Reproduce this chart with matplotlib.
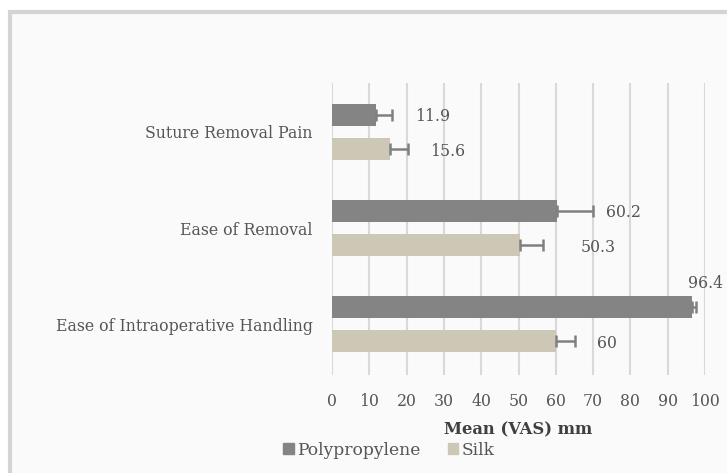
import matplotlib.pyplot as plt
import numpy as np
from matplotlib.patches import Rectangle

categories = ['Ease of Intraoperative Handling', 'Ease of Removal', 'Suture Removal Pain']
polypropylene = [96.4, 60.2, 11.9]
silk = [60.0, 50.3, 15.6]
pp_err = [1.2, 9.8, 4.2]
silk_err = [5.2, 6.3, 4.8]
pp_labels = ['96.4', '60.2', '11.9']
silk_labels = ['60', '50.3', '15.6']

plt.rcParams['font.family'] = ['DejaVu Serif']

fig = plt.figure(figsize=(7.27, 4.73), dpi=100)
fig.patch.set_facecolor('white')
# chart frame
fig.patches.append(Rectangle((10/727, -0.1), 1.1, 1 - 12/473 + 0.1, transform=fig.transFigure,
                             facecolor='#fafafa', edgecolor='#d4d4d4', lw=3, zorder=-10))

ax = fig.add_axes([332/727, 1 - 375/473, 373/727, 292/473])
ax.set_facecolor('none')

y = np.arange(len(categories))
off = 0.177
h = 0.23
pp_col = '#848484'
silk_col = '#cdc8b6'
txt = '#555555'
fs = 11.3

ekw = dict(ecolor='#808080', elinewidth=1.8, capsize=4, capthick=1.8, zorder=4)
ax.barh(y + off, polypropylene, height=h, color=pp_col, zorder=3,
        xerr=[np.zeros(3), pp_err], error_kw=ekw)
ax.barh(y - off, silk, height=h, color=silk_col, zorder=3,
        xerr=[np.zeros(3), silk_err], error_kw=ekw)

# data labels, placed by hand like the original
pp_lx = [95.5, 73.5, 22.3]
pp_ly = [0.42, 0.16, 0.16]
silk_lx = [71.0, 66.6, 26.3]
for i in range(3):
    ax.text(pp_lx[i], y[i] + pp_ly[i], pp_labels[i], va='center', ha='left',
            fontsize=fs, color=txt, zorder=4)
    ax.text(silk_lx[i], y[i] - off - 0.03, silk_labels[i], va='center', ha='left',
            fontsize=fs, color=txt, zorder=4)

ax.set_xlim(0, 100)
ax.set_ylim(-0.53, 2.51)
ax.set_xticks(np.arange(0, 101, 10))
ax.set_yticks(y)
ax.set_yticklabels(categories, fontsize=fs, color=txt)
ax.tick_params(axis='x', labelsize=fs, labelcolor=txt, length=0, pad=13)
ax.tick_params(axis='y', length=0, pad=14)
ax.grid(axis='x', color='#d9d9d9', lw=1.5, zorder=0)
for s in ax.spines.values():
    s.set_visible(False)

ax.set_xlabel('Mean (VAS) mm', fontsize=11.8, fontweight='bold', color='#404040', labelpad=8)

handles = [Rectangle((0, 0), 1, 1, color=pp_col), Rectangle((0, 0), 1, 1, color=silk_col)]
fig.legend(handles, ['Polypropylene', 'Silk'], loc='center left', bbox_to_anchor=(268/727, 1 - 450/473),
           ncol=2, frameon=False, fontsize=12.3, handlelength=0.6, handleheight=0.6,
           handletextpad=0.2, columnspacing=1.6, labelcolor=txt)

fig.savefig('out.png', dpi=100)
